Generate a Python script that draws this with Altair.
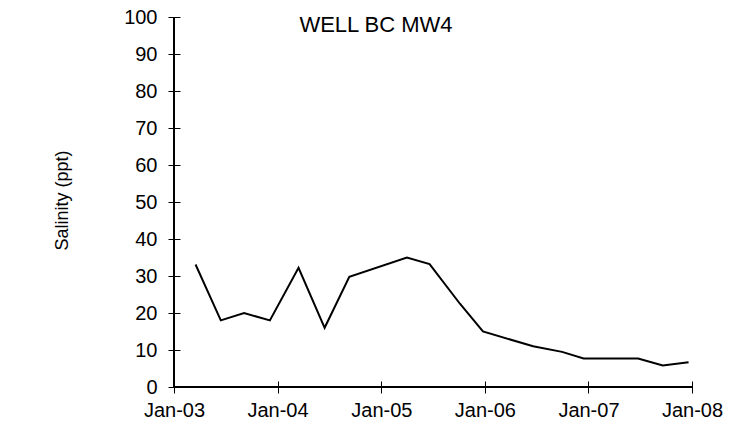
import altair as alt
import pandas as pd

dates = ["2003-03-18", "2003-06-15", "2003-09-05", "2003-12-05", "2004-03-15",
         "2004-06-15", "2004-09-10", "2005-04-01", "2005-06-20", "2005-10-05",
         "2005-12-25", "2006-06-20", "2006-09-30", "2006-12-15", "2007-06-25",
         "2007-09-20", "2007-12-20"]
salinity = [33.1, 18.0, 20.0, 18.0, 32.2, 16.0, 29.8, 35.0, 33.2, 22.5,
            15.0, 11.0, 9.5, 7.7, 7.7, 5.8, 6.7]
years = [2003, 2004, 2005, 2006, 2007, 2008]
y_ticks = list(range(0, 101, 10))
chart_title = "WELL BC MW4"

df = pd.DataFrame({"date": dates, "salinity": salinity})

W, H = 518, 370
FONT = "Liberation Sans"

x_enc = alt.X(
    "date:T",
    scale=alt.Scale(type="utc",
                    domain=[alt.DateTime(year=years[0], month=1, date=1, utc=True),
                            alt.DateTime(year=years[-1], month=1, date=1, utc=True)]),
    axis=alt.Axis(
        values=[alt.DateTime(year=y, month=1, date=1, utc=True) for y in years],
        format="%b-%y", title=None, domain=False, grid=False,
        offset=-6, tickSize=12, tickColor="#000", tickWidth=1,
        labelPadding=7, labelFont=FONT, labelFontSize=20, labelColor="#000",
        labelFlush=False,
    ),
)
y_enc = alt.Y(
    "salinity:Q",
    scale=alt.Scale(domain=[0, 100], nice=False, zero=True),
    axis=alt.Axis(
        values=y_ticks, title="Salinity (ppt)", domain=False, grid=False,
        offset=-6, tickSize=12, tickColor="#000", tickWidth=1,
        labelPadding=11, labelFont=FONT, labelFontSize=20, labelColor="#000",
        titleFont=FONT, titleFontSize=18, titleFontWeight="normal", titleColor="#000",
        titleAngle=-90, titleAlign="center", titleBaseline="middle",
        titleX=-118, titleY=183,
    ),
)

line = alt.Chart(df).mark_line(color="#000", strokeWidth=2).encode(x=x_enc, y=y_enc)

xdomain = alt.Chart(df).mark_rule(color="#000", strokeWidth=1).encode(
    x=alt.value(0), x2=alt.value(W), y=alt.value(H))
ydomain = alt.Chart(df).mark_rule(color="#000", strokeWidth=1).encode(
    x=alt.value(0), y=alt.value(0), y2=alt.value(H))

title = alt.Chart(pd.DataFrame({"t": [chart_title]})).mark_text(
    font=FONT, fontSize=22, color="#000", align="center", baseline="alphabetic"
).encode(text="t:N", x=alt.value(202), y=alt.value(15))

chart = alt.layer(line, xdomain, ydomain, title).properties(
    width=W, height=H,
    autosize=alt.AutoSizeParams(type="none"),
    padding={"left": 166, "top": 9, "right": 32, "bottom": 42},
).configure_view(stroke=None)

chart.save("out.html", embed_options={"renderer": "svg", "actions": False})
